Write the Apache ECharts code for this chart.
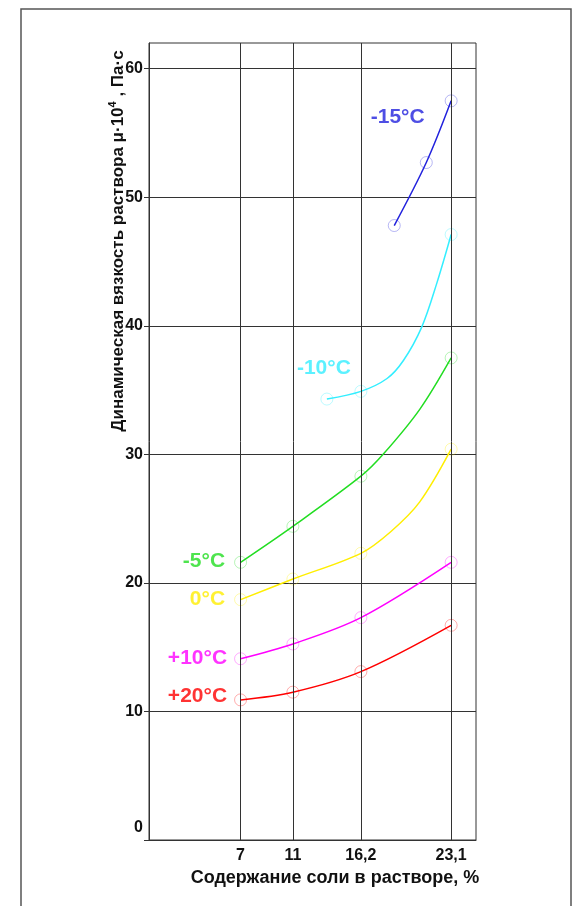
<!DOCTYPE html>
<html>
<head>
<meta charset="utf-8">
<script src="https://cdn.jsdelivr.net/npm/echarts@6/dist/echarts.min.js"></script>
<style>
  html, body { margin: 0; background: #fff; }
  #chart { width: 575px; height: 906px; }
</style>
</head>
<body>
<div id="chart"></div>
<script>
  // концентрация соли, % (подписи и вертикальные линии сетки)
  var saltTicks = [7, 11, 16.2, 23.1];
  // деления оси вязкости
  var viscTicks = [0, 10, 20, 30, 40, 50, 60];

  // температуры
  var tempNames = ['-15°C', '-10°C', '-5°C', '0°C', '+10°C', '+20°C'];
  var tempColors = ['#2222dd', '#33eeff', '#22dd22', '#ffee00', '#ff00ff', '#ff0000'];

  // измеренные точки [соль %, вязкость μ·10^4]
  var ptsM15 = [[18.75, 47.8], [21.2, 52.7], [23.1, 57.5]];
  var ptsM10 = [[13.6, 34.3], [16.2, 34.9], [23.1, 47.1]];
  var ptsM5 = [[7, 21.6], [11, 24.4], [16.2, 28.3], [23.1, 37.5]];
  var pts0 = [[7, 18.7], [11, 20.3], [16.2, 22.3], [23.1, 30.4]];
  var ptsP10 = [[7, 14.1], [11, 15.25], [16.2, 17.3], [23.1, 21.6]];
  var ptsP20 = [[7, 10.9], [11, 11.5], [16.2, 13.1], [23.1, 16.7]];

  // кривые (промежуточные точки без маркеров)
  var traceM10 = [[13.6, 34.3], [16.2, 34.9], [18.2, 35.9], [19.45, 37.3], [20.85, 39.9], [22.0, 43.3], [23.1, 47.1]];
  var traceM5 = [[7, 21.6], [11, 24.4], [16.2, 28.3], [17.9, 30.0], [20.7, 33.5], [23.1, 37.5]];
  var trace0 = [[7, 18.7], [11, 20.3], [16.2, 22.3], [18.5, 24.0], [20.7, 26.3], [23.1, 30.4]];

  var allPts = [ptsM15, ptsM10, ptsM5, pts0, ptsP10, ptsP20];
  var allCurves = [ptsM15, traceM10, traceM5, trace0, ptsP10, ptsP20];

  // где стоит подпись температуры
  var labelAt = [
    {idx: 2, position: 'left', distance: 20, offset: [0, 16]},
    {idx: 0, position: 'top', distance: 14, offset: [-3, 0]},
    {idx: 0, position: 'left', distance: 9, offset: [0, -1]},
    {idx: 0, position: 'left', distance: 9, offset: [0, 0]},
    {idx: 0, position: 'left', distance: 7, offset: [0, -1]},
    {idx: 0, position: 'left', distance: 7, offset: [0, -4]}
  ];

  function fade(hex, a) {
    var r = parseInt(hex.substr(1, 2), 16), g = parseInt(hex.substr(3, 2), 16), b = parseInt(hex.substr(5, 2), 16);
    return 'rgba(' + r + ',' + g + ',' + b + ',' + a + ')';
  }

  var font = 'Liberation Sans, Arial, sans-serif';
  var series = [];

  // вертикальные линии сетки
  series.push({
    type: 'line',
    data: [],
    silent: true,
    markLine: {
      silent: true,
      symbol: 'none',
      label: {show: false},
      lineStyle: {color: '#333', type: 'solid', width: 1},
      data: saltTicks.map(function (v) { return {xAxis: v}; })
    }
  });

  for (var i = 0; i < allPts.length; i++) {
    var c = tempColors[i];
    series.push({
      name: tempNames[i],
      type: 'line',
      data: allCurves[i],
      smooth: 0.33,
      showSymbol: false,
      silent: true,
      z: 3,
      lineStyle: {color: c, width: 1.5}
    });

    var la = labelAt[i];
    var data = allPts[i].map(function (p, k) {
      if (k !== la.idx) return p;
      return {
        value: p,
        label: {
          show: true,
          formatter: tempNames[i],
          position: la.position,
          distance: la.distance,
          offset: la.offset,
          color: c,
          fontSize: 21,
          fontWeight: 'bold',
          fontFamily: font
        }
      };
    });
    series.push({
      name: tempNames[i],
      type: 'scatter',
      data: data,
      symbol: 'circle',
      symbolSize: 12,
      silent: true,
      z: 4,
      itemStyle: {color: 'rgba(0,0,0,0)', borderColor: fade(c, 0.4), borderWidth: 1}
    });
  }

  var myChart = echarts.init(document.getElementById('chart'));

  myChart.setOption({
    animation: false,
    backgroundColor: '#fff',
    grid: {left: 149, right: 99, top: 43, bottom: 66, show: true, borderColor: '#333', borderWidth: 1},
    xAxis: {
      type: 'value',
      min: 0,
      max: 25,
      axisLine: {show: true, lineStyle: {color: '#333'}},
      axisTick: {show: false},
      splitLine: {show: false},
      axisLabel: {
        customValues: saltTicks,
        formatter: function (v) { return String(v).replace('.', ','); },
        margin: 8,
        color: '#111',
        fontSize: 16,
        fontWeight: 'bold',
        fontFamily: font
      },
      name: 'Содержание соли в растворе, %',
      nameLocation: 'middle',
      nameGap: 25,
      nameTextStyle: {color: '#111', fontSize: 18, fontWeight: 'bold', fontFamily: font, padding: [0, 0, 0, 45]}
    },
    yAxis: {
      type: 'value',
      min: 0,
      max: 62,
      interval: 10,
      axisLine: {show: true, lineStyle: {color: '#333'}},
      axisTick: {show: true, customValues: viscTicks, length: 5, lineStyle: {color: '#333'}},
      splitLine: {show: true, lineStyle: {color: '#333', width: 1}},
      axisLabel: {
        customValues: viscTicks,
        margin: 6,
        color: '#111',
        fontSize: 16,
        fontWeight: 'bold',
        fontFamily: font,
        formatter: function (v) {
          return v === 0 ? '{z|0}' : String(v);
        },
        rich: {
          z: {color: '#111', fontSize: 16, fontWeight: 'bold', fontFamily: font, padding: [0, 0, 24, 0]}
        }
      }
    },
    graphic: [
      {
        type: 'rect',
        shape: {x: 21, y: 9, width: 550, height: 960},
        style: {fill: 'none', stroke: '#555', lineWidth: 1.5}
      },
      {
        type: 'text',
        x: 117,
        y: 241,
        rotation: Math.PI / 2,
        style: {
          text: '{a|Динамическая вязкость раствора μ·10}{s|4}{a| , Па·с}',
          align: 'center',
          verticalAlign: 'middle',
          rich: {
            a: {fontSize: 17, fontWeight: 'bold', fontFamily: font, fill: '#111', verticalAlign: 'bottom'},
            s: {fontSize: 11, fontWeight: 'bold', fontFamily: font, fill: '#111', verticalAlign: 'bottom', padding: [0, 0, 8, 0]}
          }
        }
      }
    ],
    series: series
  });
</script>
</body>
</html>
